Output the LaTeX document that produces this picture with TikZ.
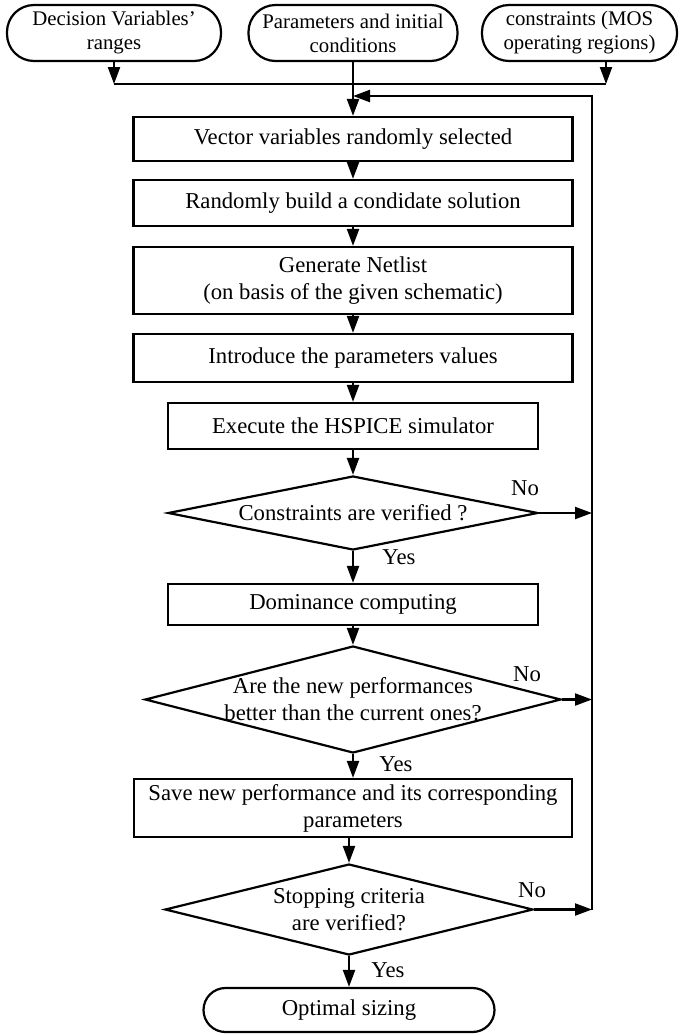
\documentclass[tikz,border=0pt]{standalone}
\usepackage{fontspec}
\setmainfont{Liberation Serif}
\usetikzlibrary{arrows.meta,shapes.geometric}
\begin{document}
\begin{tikzpicture}[x=1pt,y=-1pt,
  every node/.style={font=\fontsize{22.7}{27}\selectfont},
  line width=2.2pt,
  procbox/.style={draw,rectangle,inner sep=0pt,align=center,minimum height=#1},
  termbox/.style={draw,rectangle,rounded corners=27pt,inner sep=0pt,align=center,minimum height=56pt,font=\fontsize{20.8}{24}\selectfont},
  decbox/.style={draw,diamond,inner sep=0pt},
  lbl/.style={inner sep=0pt},
  arr/.style={-{Triangle[length=17pt,width=12pt]}}
]
\useasboundingbox (0,0) rectangle (679,1034);
% top terminals
\node[termbox,minimum width=214pt] (top1) at (114,33) {Decision Variables’\\ranges};
\node[termbox,minimum width=209pt] (top2) at (353,33) {Parameters and initial\\conditions};
\node[termbox,minimum width=195pt] (top3) at (579.5,33) {constraints (MOS\\operating regions)};
% process boxes
\node[procbox=44pt,minimum width=439pt] (vec) at (353,139) {Vector variables randomly selected};
\node[procbox=46pt,minimum width=439pt] (rnd) at (353,203) {Randomly build a condidate solution};
\node[procbox=67pt,minimum width=439pt] (gen) at (353,280.5) {Generate Netlist\\(on basis of the given schematic)};
\node[procbox=48pt,minimum width=439pt] (intro) at (353,358) {Introduce the parameters values};
\node[procbox=46pt,minimum width=370pt] (exe) at (353,426) {Execute the HSPICE simulator};
% decision 1
\node[decbox,minimum width=370pt,minimum height=74pt] (d1) at (353,513) {};
\node[lbl] (d1t) at (d1.center) {Constraints are verified ?};
\node[procbox=41pt,minimum width=370pt] (dom) at (353,604.5) {Dominance computing};
% decision 2
\node[decbox,minimum width=416pt,minimum height=107pt] (d2) at (353,699.5) {};
\node[lbl,align=center] (d2t) at (d2.center) {Are the new performances\\better than the current ones?};
\node[procbox=58pt,minimum width=438pt] (save) at (353,808) {Save new performance and its corresponding\\parameters};
% decision 3
\node[decbox,minimum width=368pt,minimum height=91pt] (d3) at (349,909.5) {};
\node[lbl,align=center] (d3t) at (d3.center) {Stopping criteria\\are verified?};
\node[draw,rectangle,rounded corners=22pt,inner sep=0pt,minimum width=291pt,minimum height=44pt] (opt) at (349,1010) {Optimal sizing};
% labels
\node[lbl] (no1) at (525,488) {No};
\node[lbl] (yes1) at (399,557) {Yes};
\node[lbl] (no2) at (527,674) {No};
\node[lbl] (yes2) at (396,764) {Yes};
\node[lbl] (no3) at (532,890) {No};
\node[lbl] (yes3) at (388,970) {Yes};
% junctions
\coordinate (jL) at (114,84);
\coordinate (jR) at (606,84);
\coordinate (fb) at (592,96);
\coordinate (fbin) at (353,96);
% top connectors
\draw[arr] (top1.south -| jL) -- (jL);
\draw[arr] (top3.south -| jR) -- (jR);
\draw (jL) -- (jR);
\draw[arr] (top2) -- (vec);
% main flow
\draw[arr] (vec) -- (rnd);
\draw[arr] (rnd) -- (gen);
\draw[arr] (gen) -- (intro);
\draw[arr] (intro) -- (exe);
\draw[arr] (exe) -- (d1);
\draw[arr] (d1) -- (dom);
\draw[arr] (dom) -- (d2);
\draw[arr] (d2) -- (save);
\draw[arr] (save.south -| d3.north) -- (d3.north);
\draw[arr] (d3) -- (opt);
% feedback
\draw[arr] (d1.east) -- (d1.east -| fb);
\draw[arr] (d2.east) -- (d2.east -| fb);
\draw[arr] (d3.east) -- (d3.east -| fb);
\draw[arr] (d3.east -| fb) -- (fb) -- (fbin);
\end{tikzpicture}
\end{document}
